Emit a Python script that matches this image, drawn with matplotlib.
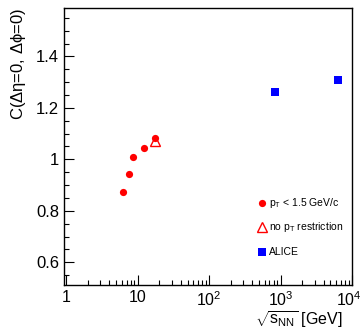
import numpy as np
import matplotlib.pyplot as plt
import matplotlib.transforms as mtransforms
from matplotlib.ticker import LogLocator, MultipleLocator, NullFormatter, FixedLocator

plt.rcParams['font.family'] = ['Liberation Sans', 'DejaVu Sans']
plt.rcParams['mathtext.fontset'] = 'custom'
plt.rcParams['mathtext.rm'] = 'Liberation Sans'
plt.rcParams['mathtext.it'] = 'Liberation Sans'

# SPS energies, pT < 1.5 GeV/c
sps_energy = [6.3, 7.6, 8.7, 12.3, 17.3]
sps_corr = [0.874, 0.945, 1.010, 1.043, 1.084]

# no pT restriction
nopt_energy = [17.3]
nopt_corr = [1.070]

# ALICE
alice_energy = [850, 6400]
alice_corr = [1.261, 1.310]

legend_labels = [r'p$_{\rm T}$ < 1.5 GeV/c', r'no p$_{\rm T}$ restriction', 'ALICE']

fig = plt.figure(figsize=(3.61, 3.29), dpi=100)
ax = fig.add_axes([0.177, 0.134, 0.798, 0.843])

ax.plot(sps_energy, sps_corr, 'o', color='red', markersize=5.2, markeredgewidth=0)
ax.plot(nopt_energy, nopt_corr, '^', color='red', markersize=6.5,
        markerfacecolor='none', markeredgewidth=1.0)
ax.plot(alice_energy, alice_corr, 's', color='blue', markersize=5.5, markeredgewidth=0)

ax.set_xscale('log')
ax.set_xlim(0.93, 1e4)
ax.set_ylim(0.512, 1.59)

ax.xaxis.set_major_locator(FixedLocator([1, 10, 100, 1000, 10000]))
ax.xaxis.set_minor_locator(LogLocator(base=10, subs=np.arange(2, 10)))
ax.xaxis.set_minor_formatter(NullFormatter())
ax.set_xticklabels(['1', '10', r'10$^2$', r'10$^3$', r'10$^4$'])
ax.yaxis.set_minor_locator(MultipleLocator(0.05))
ax.set_yticks([0.6, 0.8, 1.0, 1.2, 1.4])
ax.set_yticklabels(['0.6', '0.8', '1', '1.2', '1.4'])

ax.tick_params(which='both', direction='in', top=False, right=False, labelsize=12)
ax.tick_params(which='major', length=7, width=0.8)
ax.tick_params(which='minor', length=3.5, width=0.8)
ax.tick_params(axis='x', pad=4, labelsize=11.5)
for s in ax.spines.values():
    s.set_linewidth(1.0)

# keep the last x label inside the canvas
last = ax.get_xticklabels()[-1]
last.set_transform(last.get_transform() + mtransforms.ScaledTranslation(-3 / 100, 0, fig.dpi_scale_trans))

ax.set_ylabel(r'C($\Delta\eta$=0, $\Delta\phi$=0)', fontsize=12, loc='top', labelpad=6)
fig.text(343 / 361, 1 - 325 / 329, r'$\sqrt{\rm s_{NN}}$ [GeV]', fontsize=11.5,
         ha='right', va='baseline')

# legend drawn in axes coordinates
leg_y = [0.295, 0.208, 0.12]
mk = [dict(marker='o', color='red', markersize=5.2, markeredgewidth=0),
      dict(marker='^', color='red', markersize=6.5, markerfacecolor='none', markeredgewidth=1.0),
      dict(marker='s', color='blue', markersize=5.5, markeredgewidth=0)]
for y, lab, m in zip(leg_y, legend_labels, mk):
    ax.plot([0.688], [y], transform=ax.transAxes, linestyle='none', clip_on=False, **m)
    ax.text(0.712, y, lab, transform=ax.transAxes, fontsize=7.5, va='center', ha='left')

fig.savefig('out.png', dpi=100)
